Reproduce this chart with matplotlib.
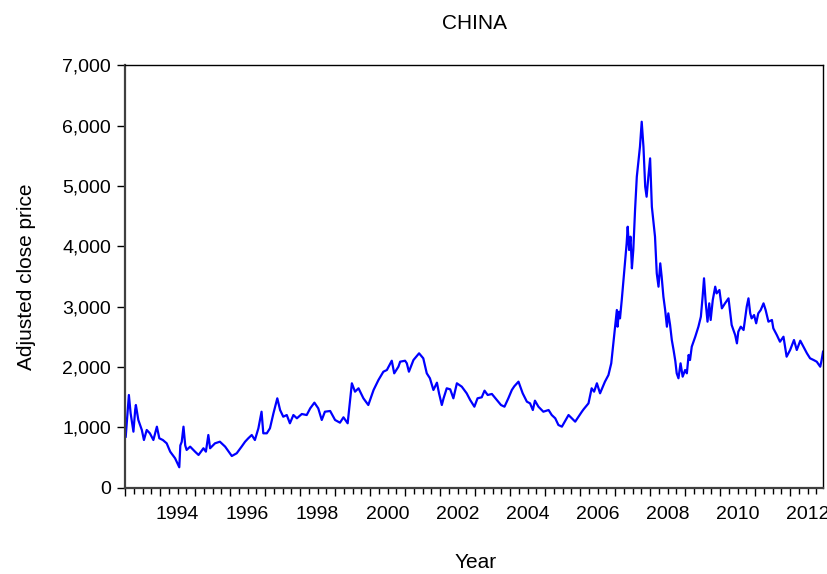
import numpy as np
import matplotlib.pyplot as plt
from matplotlib.ticker import FuncFormatter, MultipleLocator

plt.rcParams['font.family'] = ['Liberation Sans', 'DejaVu Sans']

# Shanghai composite (fractional year, index level)
years = [
    1993.02, 1993.11, 1993.16, 1993.19, 1993.24, 1993.29, 1993.31, 1993.38, 1993.43, 1993.48,
    1993.54, 1993.62, 1993.71, 1993.81, 1993.91, 1993.98, 1994.08, 1994.19, 1994.29, 1994.43,
    1994.55, 1994.58, 1994.62, 1994.67, 1994.72, 1994.76, 1994.86, 1995.00, 1995.10, 1995.24,
    1995.31, 1995.38, 1995.43, 1995.57, 1995.71, 1995.86, 1996.05, 1996.19, 1996.33, 1996.43,
    1996.52, 1996.62, 1996.71, 1996.81, 1996.90, 1996.95, 1997.05, 1997.14, 1997.24, 1997.35,
    1997.43, 1997.52, 1997.62, 1997.71, 1997.81, 1997.91, 1998.05, 1998.19, 1998.29, 1998.41,
    1998.52, 1998.62, 1998.71, 1998.86, 1999.00, 1999.14, 1999.24, 1999.36, 1999.48, 1999.57,
    1999.67, 1999.81, 1999.95, 2000.10, 2000.24, 2000.38, 2000.48, 2000.62, 2000.69, 2000.81,
    2000.86, 2001.00, 2001.05, 2001.11, 2001.24, 2001.40, 2001.52, 2001.62, 2001.71, 2001.81,
    2001.91, 2001.97, 2002.05, 2002.10, 2002.19, 2002.29, 2002.38, 2002.48, 2002.62, 2002.76,
    2002.86, 2002.98, 2003.07, 2003.19, 2003.27, 2003.36, 2003.48, 2003.62, 2003.74, 2003.84,
    2003.95, 2004.05, 2004.12, 2004.24, 2004.36, 2004.48, 2004.57, 2004.65, 2004.71, 2004.81,
    2004.95, 2005.10, 2005.19, 2005.29, 2005.38, 2005.48, 2005.67, 2005.86, 2006.05, 2006.10,
    2006.24, 2006.33, 2006.40, 2006.48, 2006.57, 2006.71, 2006.81, 2006.89, 2006.95, 2007.00,
    2007.05, 2007.07, 2007.11, 2007.14, 2007.19, 2007.24, 2007.29, 2007.33, 2007.36, 2007.40,
    2007.44, 2007.48, 2007.52, 2007.57, 2007.62, 2007.67, 2007.71, 2007.76, 2007.81, 2007.86,
    2007.90, 2007.95, 2008.00, 2008.05, 2008.10, 2008.14, 2008.19, 2008.24, 2008.29, 2008.33,
    2008.38, 2008.43, 2008.48, 2008.52, 2008.57, 2008.62, 2008.67, 2008.72, 2008.76, 2008.81,
    2008.87, 2008.93, 2009.00, 2009.05, 2009.10, 2009.14, 2009.19, 2009.29, 2009.38, 2009.45,
    2009.50, 2009.54, 2009.59, 2009.64, 2009.69, 2009.73, 2009.79, 2009.86, 2009.90, 2009.98,
    2010.05, 2010.14, 2010.24, 2010.29, 2010.33, 2010.43, 2010.48, 2010.52, 2010.59, 2010.67,
    2010.76, 2010.81, 2010.86, 2010.90, 2010.97, 2011.03, 2011.09, 2011.16, 2011.24, 2011.30,
    2011.38, 2011.48, 2011.52, 2011.62, 2011.71, 2011.81, 2011.90, 2012.00, 2012.11, 2012.19,
    2012.29, 2012.38, 2012.48, 2012.57, 2012.67, 2012.76, 2012.86, 2012.90, 2012.94,
]
prices = [
    845, 1536, 1233, 1122, 928, 1288, 1370, 1122, 1039, 956,
    790, 956, 901, 790, 1011, 818, 790, 735, 597, 487,
    338, 700, 760, 1011, 700, 625, 680, 597, 542, 653,
    597, 873, 653, 735, 762, 680, 525, 570, 680, 762,
    818, 873, 790, 984, 1259, 901, 901, 984, 1233, 1481,
    1287, 1176, 1204, 1067, 1204, 1150, 1221, 1204, 1315, 1409,
    1315, 1122, 1259, 1271, 1122, 1077, 1166, 1067, 1730, 1591,
    1647, 1481, 1370, 1619, 1785, 1922, 1950, 2104, 1895, 2005,
    2088, 2104, 2061, 1922, 2116, 2227, 2144, 1895, 1813, 1619,
    1740, 1564, 1370, 1481, 1647, 1630, 1481, 1730, 1674, 1564,
    1453, 1342, 1481, 1498, 1608, 1536, 1553, 1453, 1370, 1342,
    1481, 1619, 1680, 1757, 1564, 1425, 1398, 1287, 1442, 1342,
    1259, 1287, 1204, 1150, 1039, 1011, 1204, 1094, 1259, 1299,
    1398, 1647, 1591, 1730, 1564, 1757, 1867, 2061, 2393, 2668,
    2945, 2668, 2916, 2806, 3110, 3442, 3773, 4050, 4325, 3939,
    4160, 3635, 3939, 4602, 5153, 5430, 5650, 6065, 5650, 4988,
    4822, 5153, 5458, 4656, 4381, 4160, 3553, 3331, 3718, 3497,
    3165, 2945, 2668, 2889, 2700, 2447, 2282, 2100, 1895, 1813,
    2061, 1840, 1950, 1895, 2199, 2116, 2337, 2502, 2668, 2834,
    3165, 3470, 3055, 2751, 3055, 2779, 3110, 3331, 3220, 3276,
    2972, 3055, 3138, 2889, 2696, 2530, 2392, 2585, 2668, 2613,
    2999, 3138, 2889, 2806, 2861, 2724, 2889, 2945, 3055, 2945,
    2751, 2779, 2641, 2530, 2419, 2502, 2171, 2282, 2447, 2282,
    2436, 2337, 2227, 2144, 2116, 2088, 2005, 2116, 2254,
]
label_years = [1994, 1996, 1998, 2000, 2002, 2004, 2006, 2008, 2010, 2012]

fig = plt.figure(figsize=(8.28, 5.74), dpi=100)
ax = fig.add_axes([0.151, 0.1504, 0.843, 0.7358])

ax.plot(years, prices, color='#0000ff', lw=1.6)

ax.set_xlim(1993, 2012.94)
ax.set_ylim(0, 7000)

# y axis
ax.yaxis.set_major_locator(MultipleLocator(1000))
ax.yaxis.set_major_formatter(FuncFormatter(lambda v, p: f'{int(v):,}'))
ax.tick_params(axis='y', direction='out', length=6, width=1, labelsize=14, pad=4)

# x axis: long ticks each year, short ticks each quarter, labels mid-year
ax.xaxis.set_major_locator(MultipleLocator(1))
ax.xaxis.set_minor_locator(MultipleLocator(0.25))
ax.xaxis.set_major_formatter(FuncFormatter(lambda v, p: ''))
ax.tick_params(axis='x', which='major', direction='out', length=6, width=1)
ax.tick_params(axis='x', which='minor', direction='out', length=4, width=1)

sec = ax.secondary_xaxis('bottom')
sec.set_xticks([y + 0.5 for y in label_years])
sec.set_xticklabels([str(y) for y in label_years])
sec.tick_params(length=0, labelsize=14, pad=13)
sec.spines['bottom'].set_visible(False)

for side in ['left', 'bottom']:
    ax.spines[side].set_linewidth(1.6)
    ax.spines[side].set_color('#404040')
for side in ['top', 'right']:
    ax.spines[side].set_linewidth(1.0)
    ax.spines[side].set_color('black')

ax.set_title('CHINA', fontsize=15, pad=26)
ax.set_ylabel('Adjusted close price', fontsize=15, labelpad=19)
fig.text(0.574, 0.004, 'Year', fontsize=15, ha='center', va='bottom')

fig.savefig('out.png', dpi=100)
